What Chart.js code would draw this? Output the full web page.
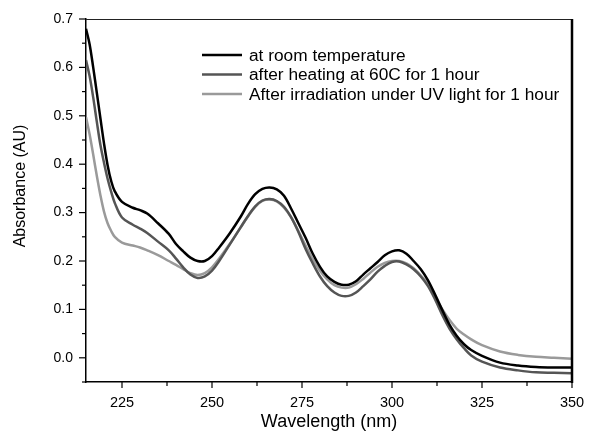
<!DOCTYPE html>
<html><head><meta charset="utf-8">
<script src="https://cdn.jsdelivr.net/npm/chart.js@4"></script>
<style>html,body{margin:0;padding:0;background:#fff}#wrap{width:592px;height:441px}</style>
</head><body><div id="wrap"><canvas id="c" width="592" height="441"></canvas></div>
<script>
const wavelengths = [215,216,217,218,219,220,221,222,223,225,228,230,232,235,238,240,242,244,246,248,250,252,255,258,260,262,264,266,268,270,272,274,276,278,280,282,284,286,288,290,292,294,296,298,300,302,304,306,308,310,312,314,316,318,320,322,325,330,335,340,345,350];
const roomTemp = [0.68,0.648,0.60,0.548,0.495,0.443,0.398,0.365,0.344,0.322,0.31,0.305,0.298,0.278,0.256,0.235,0.22,0.207,0.2,0.2,0.21,0.228,0.258,0.292,0.318,0.338,0.349,0.352,0.348,0.335,0.308,0.278,0.248,0.215,0.188,0.168,0.157,0.151,0.151,0.158,0.172,0.185,0.198,0.212,0.22,0.222,0.215,0.2,0.183,0.16,0.13,0.098,0.068,0.045,0.028,0.016,0.004,-0.01,-0.016,-0.019,-0.02,-0.02];
const heated = [0.615,0.582,0.538,0.488,0.44,0.403,0.37,0.343,0.32,0.29,0.275,0.267,0.258,0.24,0.222,0.205,0.187,0.172,0.165,0.168,0.18,0.2,0.235,0.27,0.293,0.313,0.325,0.328,0.324,0.312,0.29,0.26,0.225,0.195,0.168,0.148,0.135,0.128,0.128,0.135,0.148,0.162,0.178,0.19,0.198,0.199,0.193,0.183,0.168,0.148,0.12,0.088,0.06,0.038,0.02,0.005,-0.008,-0.02,-0.026,-0.03,-0.031,-0.032];
const uvIrradiated = [0.497,0.462,0.42,0.376,0.336,0.302,0.278,0.262,0.25,0.238,0.232,0.228,0.222,0.212,0.2,0.192,0.183,0.175,0.171,0.175,0.187,0.205,0.236,0.27,0.292,0.312,0.324,0.327,0.323,0.31,0.29,0.262,0.232,0.204,0.18,0.162,0.15,0.145,0.145,0.152,0.163,0.176,0.188,0.196,0.2,0.2,0.195,0.185,0.17,0.152,0.125,0.1,0.078,0.06,0.048,0.038,0.026,0.013,0.006,0.002,0.0,-0.002];
const seriesLabels = ["at room temperature","after heating at 60C for 1 hour","After irradiation under UV light for 1 hour"];
const xTickValues = [225,250,275,300,325,350];
const yTickValues = [0.0,0.1,0.2,0.3,0.4,0.5,0.6,0.7];
const yTitle = "Absorbance (AU)";

const FONT = "'Liberation Sans', Arial, sans-serif";
const colors = ['#000000','#555555','#9a9a9a'];
const series = [roomTemp, heated, uvIrradiated];

const decor = {
  id: 'decor',
  afterDraw(chart) {
    const ctx = chart.ctx, a = chart.chartArea;
    const xs = chart.scales.x, ys = chart.scales.y;
    ctx.save();
    ctx.lineWidth = 1;
    ctx.strokeStyle = '#222';
    ctx.beginPath(); ctx.moveTo(a.left, a.top + 0.5); ctx.lineTo(a.right, a.top + 0.5); ctx.stroke();
    ctx.strokeStyle = '#000';
    ctx.lineWidth = 2.5;
    ctx.beginPath(); ctx.moveTo(a.right, a.top); ctx.lineTo(a.right, a.bottom + 1); ctx.stroke();
    ctx.lineWidth = 1.2;
    for (let i = 0; i < yTickValues.length; i++) {
      const v = yTickValues[i];
      const p = ys.getPixelForValue(v);
      ctx.beginPath(); ctx.moveTo(a.left - 7, p); ctx.lineTo(a.left, p); ctx.stroke();
      const m = ys.getPixelForValue(v - 0.05);
      ctx.beginPath(); ctx.moveTo(a.left - 4, m); ctx.lineTo(a.left, m); ctx.stroke();
    }
    for (let i = 0; i < xTickValues.length; i++) {
      const v = xTickValues[i];
      const p = xs.getPixelForValue(v);
      ctx.beginPath(); ctx.moveTo(p, a.bottom); ctx.lineTo(p, a.bottom + 6); ctx.stroke();
      const mv = v - 12.5;
      if (mv > xs.min) {
        const m = xs.getPixelForValue(mv);
        ctx.beginPath(); ctx.moveTo(m, a.bottom); ctx.lineTo(m, a.bottom + 4); ctx.stroke();
      }
    }
    // legend
    ctx.font = '17.3px ' + FONT;
    ctx.textBaseline = 'middle';
    ctx.textAlign = 'left';
    ctx.fillStyle = '#000';
    chart.data.datasets.forEach((ds, i) => {
      const y = a.top + 36 + i * 19.5;
      const x0 = a.left + 116;
      ctx.strokeStyle = ds.borderColor;
      ctx.lineWidth = 2.5;
      ctx.beginPath(); ctx.moveTo(x0, y); ctx.lineTo(x0 + 40, y); ctx.stroke();
      ctx.fillText(ds.label, x0 + 47, y + 1);
    });
    // y axis title
    ctx.save();
    ctx.translate(21, 186);
    ctx.rotate(-Math.PI / 2);
    ctx.font = '16px ' + FONT;
    ctx.textAlign = 'center';
    ctx.textBaseline = 'middle';
    ctx.fillText(yTitle, 0, 0);
    ctx.restore();
    ctx.restore();
  }
};

new Chart(document.getElementById('c'), {
  type: 'line',
  data: {
    datasets: series.map((vals, i) => ({
      label: seriesLabels[i],
      data: wavelengths.map((w, j) => ({x: w, y: vals[j]})),
      borderColor: colors[i],
      borderWidth: 2.5,
      pointRadius: 0,
      fill: false,
      tension: 0.35
    }))
  },
  options: {
    responsive: false,
    animation: false,
    devicePixelRatio: 1,
    layout: {padding: {top: 19, right: 20, left: 0, bottom: 0}},
    plugins: {legend: {display: false}, tooltip: {enabled: false}},
    scales: {
      x: {
        type: 'linear', min: 215, max: 350,
        afterBuildTicks: s => { s.ticks = xTickValues.map(v => ({value: v})); },
        afterFit: s => { s.height = 59; s.paddingLeft = 0; s.paddingRight = 0; },
        grid: {display: false, drawTicks: false},
        border: {display: true, color: '#000', width: 1.5},
        ticks: {font: {family: FONT, size: 14.5}, color: '#000', padding: 12, maxRotation: 0, autoSkip: false,
                callback: v => String(v)},
        title: {display: true, text: 'Wavelength (nm)', font: {family: FONT, size: 18}, color: '#000', padding: {top: 0, bottom: 8}}
      },
      y: {
        type: 'linear', min: -0.05, max: 0.7,
        afterBuildTicks: s => { s.ticks = yTickValues.map(v => ({value: v})); },
        afterFit: s => { s.width = 86; s.paddingTop = 0; s.paddingBottom = 0; },
        grid: {display: false, drawTicks: false},
        border: {display: true, color: '#000', width: 1.5},
        ticks: {font: {family: FONT, size: 14}, color: '#000', padding: 13, autoSkip: false,
                callback: v => Number(v).toFixed(1)},
        title: {display: false}
      }
    }
  },
  plugins: [decor]
});
</script>
</body></html>
